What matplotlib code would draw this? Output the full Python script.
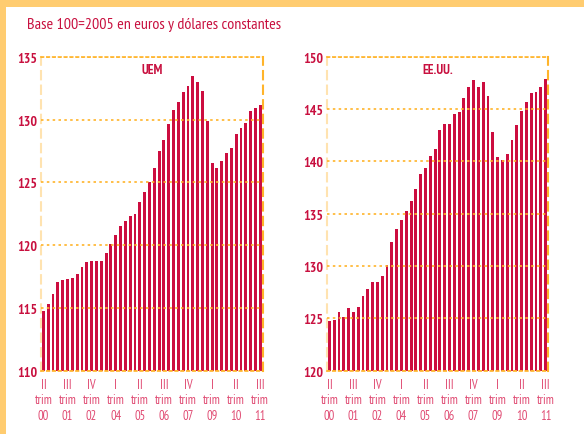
import matplotlib
matplotlib.use("Agg")
import matplotlib.pyplot as plt
from matplotlib import font_manager
from matplotlib.patches import Rectangle

names = {f.name for f in font_manager.fontManager.ttflist}
prefs = ['PT Sans Narrow', 'Roboto Condensed', 'Open Sans Condensed', 'Asap Condensed',
         'Barlow Semi Condensed', 'Archivo Narrow']
FAM = [n for n in prefs if n in names][:1] + ['DejaVu Sans']
plt.rcParams['font.family'] = FAM

# quarters 2000Q2 .. 2011Q3
tick_labels = ["II\ntrim\n00", "III\ntrim\n01", "IV\ntrim\n02", "I\ntrim\n04", "II\ntrim\n05",
               "III\ntrim\n06", "IV\ntrim\n07", "I\ntrim\n09", "II\ntrim\n10", "III\ntrim\n11"]

uem = [114.75, 115.3, 116.1, 117.1, 117.2, 117.3, 117.4, 117.7, 118.25, 118.65,
       118.7, 118.7, 118.7, 119.35, 120.1, 120.8, 121.5, 121.95, 122.35, 122.5,
       123.45, 124.2, 125.0, 126.15, 127.5, 128.4, 129.65, 130.75, 131.4, 132.2,
       132.65, 133.45, 133.0, 132.3, 129.9, 126.5, 126.15, 126.7, 127.3, 127.7,
       128.85, 129.35, 129.75, 130.7, 130.9, 131.15]

eeuu = [124.75, 124.85, 125.6, 125.15, 126.0, 125.6, 126.1, 127.15, 127.8, 128.5,
        128.5, 129.05, 130.1, 132.3, 133.5, 134.4, 135.3, 136.25, 137.4, 138.8,
        139.4, 140.5, 141.2, 143.0, 143.6, 143.6, 144.5, 144.7, 146.05, 147.1,
        147.75, 147.1, 147.6, 146.25, 142.8, 140.45, 140.15, 140.7, 142.05, 143.5,
        144.8, 145.7, 146.55, 146.65, 147.1, 147.85]

uem_ticks = [110, 115, 120, 125, 130, 135]
eeuu_ticks = [120, 125, 130, 135, 140, 145, 150]

RED = '#CC0D3F'
TXT = '#C8103F'
XTXT = '#E04A72'
ORANGE = '#FFB42A'
PALE = '#FFE3B0'
STRIP = '#FFCC70'

W, H = 584, 435
fig = plt.figure(figsize=(W / 100, H / 100), dpi=100)
fig.patch.set_facecolor('white')

# decorative strips
fig.add_artist(Rectangle((0, 1 - 8 / H), 1, 8 / H, transform=fig.transFigure,
                         facecolor=STRIP, edgecolor='none'))
fig.add_artist(Rectangle((0, 0), 6 / W, 1, transform=fig.transFigure,
                         facecolor=STRIP, edgecolor='none'))

fig.text(27 / W, 1 - 25 / H, "Base 100=2005 en euros y dólares constantes",
         color=TXT, fontsize=11.5, ha='left', va='center')


def panel(left_px, right_px, values, yticks, title):
    top_px, bot_px = 57.7, 371.7
    ax = fig.add_axes([left_px / W, 1 - bot_px / H, (right_px - left_px) / W, (bot_px - top_px) / H])
    x = list(range(len(values)))
    base = yticks[0]
    ax.bar(x, [v - base for v in values], bottom=base, width=0.6, color=RED, zorder=2)
    ax.set_xlim(-0.5, len(values) - 0.5)
    ax.set_ylim(yticks[0], yticks[-1])
    ax.set_yticks(yticks)
    ax.set_yticklabels([str(t) for t in yticks], color=TXT, fontweight='bold', fontsize=10)
    ax.set_xticks(x[::5])
    ax.set_xticklabels(tick_labels, color=XTXT, fontsize=9, linespacing=1.25)
    ax.tick_params(axis='both', length=0)
    ax.tick_params(axis='y', pad=2.5)
    ax.tick_params(axis='x', pad=5)
    ax.yaxis.grid(True, linestyle=(0, (1.5, 2)), color=ORANGE, linewidth=1.2)
    ax.set_axisbelow(False)
    for s in ['top', 'bottom']:
        ax.spines[s].set_color(ORANGE)
        ax.spines[s].set_linestyle((0, (1.5, 2)))
        ax.spines[s].set_linewidth(1.2)
    ax.spines['right'].set_color(ORANGE)
    ax.spines['right'].set_linestyle((0, (4, 3)))
    ax.spines['right'].set_linewidth(1.5)
    ax.spines['left'].set_color(PALE)
    ax.spines['left'].set_linestyle((0, (4, 3)))
    ax.spines['left'].set_linewidth(1.5)
    ax.text(0.5, 0.96, title, transform=ax.transAxes, ha='center', va='center',
            color=TXT, fontweight='bold', fontsize=9.5)
    return ax


panel(41, 262.7, uem, uem_ticks, "UEM")
panel(327, 548, eeuu, eeuu_ticks, "EE.UU.")

fig.savefig("out.png", dpi=100)
